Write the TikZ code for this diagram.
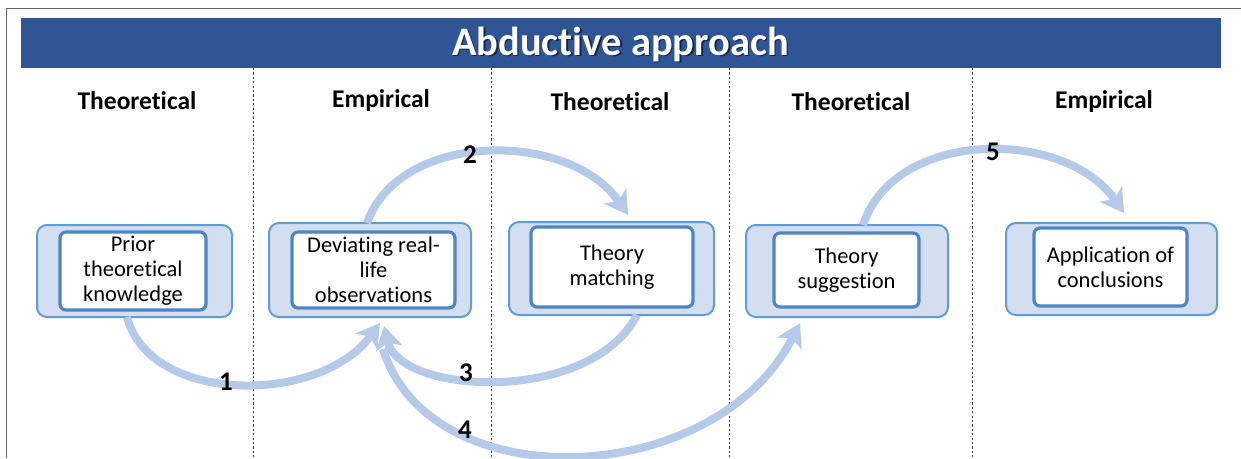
\documentclass[tikz,border=0pt]{standalone}
\usepackage{fontspec}
\setmainfont{Carlito}[Ligatures={NoCommon}]
\usetikzlibrary{arrows.meta}
\definecolor{barblue}{RGB}{47,85,151}
\definecolor{outerfill}{RGB}{211,223,240}
\definecolor{outerline}{RGB}{96,157,214}
\definecolor{innerline}{RGB}{78,134,195}
\definecolor{arrowcol}{RGB}{181,201,232}
\definecolor{framegray}{RGB}{100,100,100}
\tikzset{
  outerbox/.style={draw=outerline, fill=outerfill, line width=2pt, rounded corners=10pt, inner sep=0pt},
  innerbox/.style={draw=innerline, fill=white, line width=3.2pt, rounded corners=6pt, inner sep=0pt, align=center, font=\fontsize{22.5}{25}\selectfont},
  header/.style={font=\bfseries\fontsize{25.5}{28}\selectfont},
  numlabel/.style={font=\bfseries\fontsize{27}{30}\selectfont},
  flow/.style={draw=arrowcol, line width=8pt, -{Stealth[length=23pt,width=27pt,inset=6pt]}},
  divider/.style={draw=black!75, line width=0.6pt, dash pattern=on 2.2pt off 2.2pt},
}
\begin{document}
\begin{tikzpicture}[x=1pt,y=-1pt]
\useasboundingbox (0,0) rectangle (1241,458);
\fill[white] (0,0) rectangle (1241,458);
% frame
\coordinate (fTL) at (6,8);
\coordinate (fTR) at (1241,8);
\coordinate (fBL) at (6,458);
\draw[framegray, line width=1pt] (fBL) -- (fTL) -- (fTR);
% title bar
\node[fill=barblue, minimum width=1200pt, minimum height=50pt, inner sep=0pt] (bar) at (620.5,43) {};
\node[text=black, opacity=0.55, font=\bfseries\fontsize{40.5}{45}\selectfont] (titleshadow) at (622,45.5) {Abductive approach};
\node[text=white, font=\bfseries\fontsize{40.5}{45}\selectfont] (title) at (620.5,44) {Abductive approach};
% dividers
\foreach \x/\n in {253/d1,491/d2,729/d3,972/d4}{
  \coordinate (\n t) at (\x,68);
  \coordinate (\n b) at (\x,458);
  \draw[divider] (\n t) -- (\n b);
}
% headers
\node[header] (h1) at (137,101) {Theoretical};
\node[header] (h2) at (381,101) {Empirical};
\node[header] (h3) at (610,102) {Theoretical};
\node[header] (h4) at (851,102) {Theoretical};
\node[header] (h5) at (1104,102) {Empirical};
% boxes
\node[outerbox, minimum width=195pt, minimum height=92pt] (b1o) at (134.5,271) {};
\node[innerbox, minimum width=146pt, minimum height=78pt] (b1) at (133,271) {Prior\\theoretical\\knowledge};
\node[outerbox, minimum width=202pt, minimum height=94pt] (b2o) at (370,270) {};
\node[innerbox, minimum width=163pt, minimum height=76pt] (b2) at (373.5,270) {Deviating real-\\life\\observations};
\node[outerbox, minimum width=205pt, minimum height=93pt] (b3o) at (611.5,268.5) {};
\node[innerbox, minimum width=162pt, minimum height=80pt] (b3) at (612,267) {Theory\\matching};
\node[outerbox, minimum width=202pt, minimum height=92pt] (b4o) at (847,271) {};
\node[innerbox, minimum width=145pt, minimum height=74pt] (b4) at (846.5,270) {Theory\\suggestion};
\node[outerbox, minimum width=211pt, minimum height=92pt] (b5o) at (1111.5,269) {};
\node[innerbox, minimum width=153pt, minimum height=78pt] (b5) at (1110.5,267) {Application of\\conclusions};
% arrow end points
\coordinate (a1s) at (127,317);
\coordinate (a1e) at (380,323);
\coordinate (a2s) at (367,223);
\coordinate (a2e) at (628,215);
\coordinate (a3s) at (637,315);
\coordinate (a3e) at (384,326);
\coordinate (a4s) at (383,349);
\coordinate (a4e) at (800,323);
\coordinate (a5s) at (863,225);
\coordinate (a5e) at (1124,213);
% arrows
\draw[flow] (a1s) .. controls (150,405) and (320,405) .. (a1e);
\draw[flow] (a2s) .. controls (400,130) and (570,130) .. (a2e);
\draw[flow] (a3s) .. controls (590,405) and (400,395) .. (a3e);
\draw[flow] (a4s) .. controls (430,500) and (715,490) .. (a4e);
\draw[flow] (a5s) .. controls (895,128) and (1065,128) .. (a5e);
% labels
\node[numlabel] (n1) at (226,382) {1};
\node[numlabel] (n2) at (470,155) {2};
\node[numlabel] (n3) at (466,373) {3};
\node[numlabel] (n4) at (465,430) {4};
\node[numlabel] (n5) at (993,152) {5};
\end{tikzpicture}
\end{document}
